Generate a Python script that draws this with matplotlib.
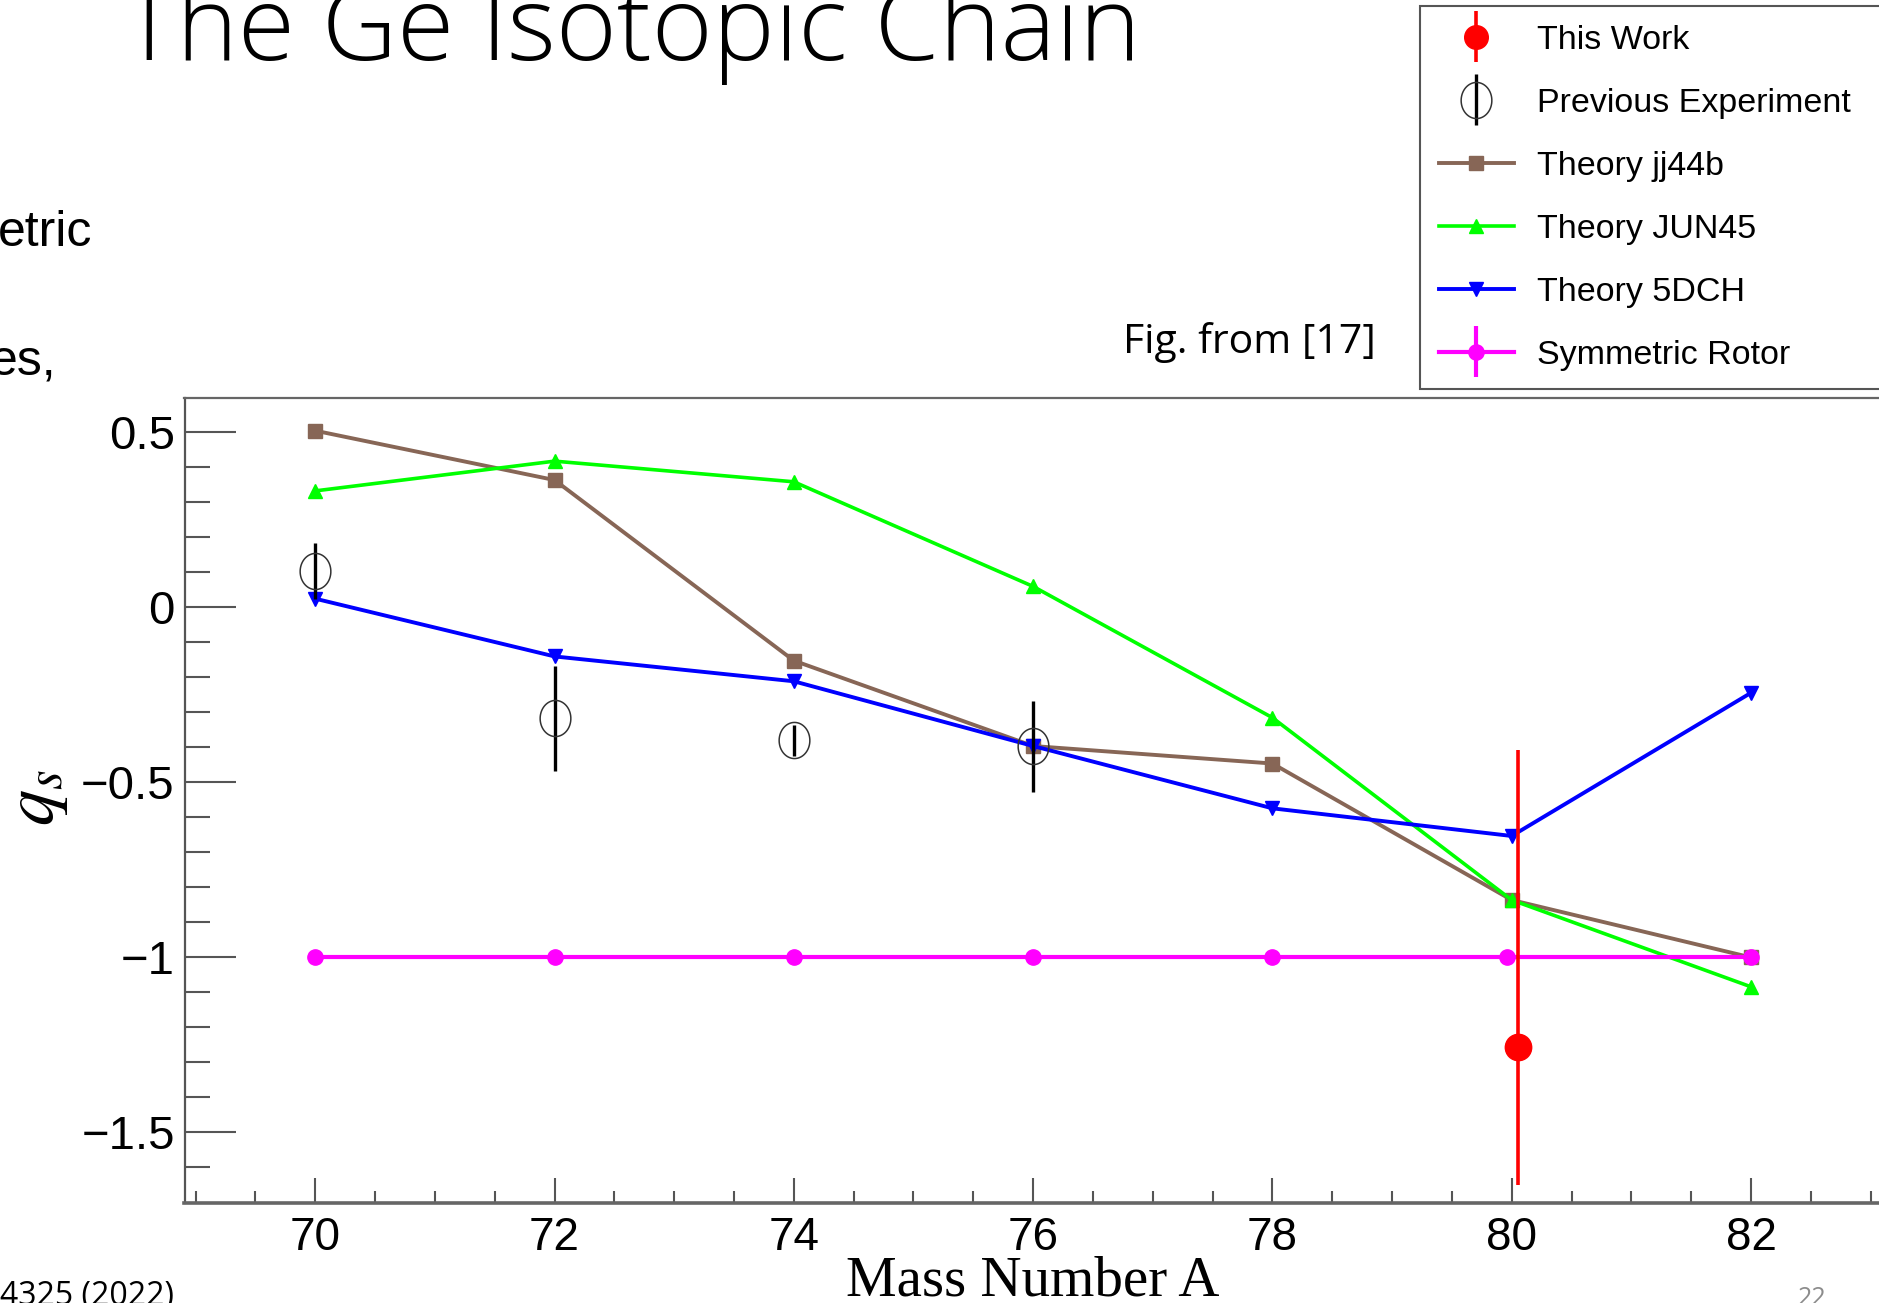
import matplotlib
matplotlib.use("Agg")
import matplotlib.pyplot as plt
import numpy as np
from matplotlib.path import Path
from matplotlib.lines import Line2D
from matplotlib.container import ErrorbarContainer
from matplotlib.legend_handler import HandlerErrorbar

plt.rcParams['font.family'] = ['Liberation Sans', 'DejaVu Sans']
plt.rcParams['mathtext.fontset'] = 'stix'

# data
mass = [70, 72, 74, 76, 78, 80, 82]
jj44b = [0.505, 0.364, -0.152, -0.396, -0.446, -0.836, -1.0]
jun45 = [0.333, 0.418, 0.359, 0.060, -0.315, -0.836, -1.084]
dch5 = [0.025, -0.140, -0.211, -0.396, -0.574, -0.653, -0.244]

rotor_mass = [70, 72, 74, 76, 78, 79.96, 82]
rotor_q = [-1.0, -1.0, -1.0, -1.0, -1.0, -1.0, -1.0]

prev_mass = [70, 72, 74, 76]
prev_q = [0.105, -0.316, -0.380, -0.396]
prev_err = [0.08, 0.15, 0.045, 0.13]

this_mass = [80.05]
this_q = [-1.255]
this_err_lo = [0.396]
this_err_hi = [0.848]

labels = ["This Work", "Previous Experiment", "Theory jj44b",
          "Theory JUN45", "Theory 5DCH", "Symmetric Rotor"]

W, H = 1879, 1303
fig = plt.figure(figsize=(W / 100, H / 100), dpi=100)

# axes placed like the root canvas on the slide (right edge cut by slide)
x0, x1 = 184.5, 1879
y0, y1 = 397.8, 1203.1
ax = fig.add_axes([x0 / W, 1 - y1 / H, (x1 - x0) / W, (y1 - y0) / H])

# ellipse marker, root markers look stretched on the slide
t = np.linspace(0, 2 * np.pi, 80)
ellipse = Path(np.column_stack([0.85 * np.cos(t), np.sin(t)]))

l_jj, = ax.plot(mass, jj44b, '-s', color='#876656', lw=2.8, ms=9.5, zorder=2)
l_jun, = ax.plot(mass, jun45, '-^', color='#00ff00', lw=2.6, ms=10, zorder=2)
l_dch, = ax.plot(mass, dch5, '-v', color='#0000ff', lw=2.8, ms=10, zorder=2.2)
h_rot = ax.errorbar(rotor_mass, rotor_q, yerr=[0] * len(rotor_q), fmt='-o',
                    color='#ff00ff', lw=3, ms=11, elinewidth=3, zorder=2.5)
h_prev = ax.errorbar(prev_mass, prev_q, yerr=prev_err, marker=ellipse,
                     linestyle='none', ms=26, mfc='none', mec='#333333', mew=1.1,
                     ecolor='black', elinewidth=2.4, zorder=3)
h_this = ax.errorbar(this_mass, this_q, yerr=[this_err_lo, this_err_hi], fmt='o',
                     color='#ff0000', ms=19, elinewidth=2.6, zorder=4)

ax.set_xlim(68.907, 83.07)
ax.set_ylim(-1.702, 0.599)
ax.set_xticks(np.arange(70, 83, 2))
ax.set_xticks(np.arange(69, 83.1, 0.5), minor=True)
ax.set_yticks([-1.5, -1, -0.5, 0, 0.5])
ax.set_yticklabels(['\u22121.5', '\u22121', '\u22120.5', '0', '0.5'])
ax.set_yticks(np.arange(-1.6, 0.55, 0.1), minor=True)

ax.tick_params(axis='both', which='both', direction='in', color='#555555', width=1.5,
               top=False, right=False)
ax.tick_params(axis='x', which='major', length=18, labelsize=33, pad=9)
ax.tick_params(axis='x', which='minor', length=9)
ax.tick_params(axis='y', which='major', length=37, labelsize=34, pad=7)
ax.tick_params(axis='y', which='minor', length=18)

ax.spines['right'].set_visible(False)
ax.spines['left'].set_color('#555555')
ax.spines['left'].set_linewidth(1.6)
ax.spines['top'].set_color('#666666')
ax.spines['top'].set_linewidth(1.6)
ax.spines['bottom'].set_color('#666666')
ax.spines['bottom'].set_linewidth(2.6)

ax.set_xlabel('Mass Number A', family='Liberation Serif', fontsize=41, va='baseline')
ax.xaxis.set_label_coords(1033 / W, 1 - 1295 / H, transform=fig.transFigure)
ax.set_ylabel(r'$q_s$', fontsize=52, va='center')
ax.yaxis.set_label_coords(36 / W, 1 - 798 / H, transform=fig.transFigure)


def legend_props(handle, orig):
    handle.update_from(orig)
    if isinstance(handle, Line2D) and handle.get_markersize() > 16:
        if handle.get_markerfacecolor() != 'none':
            handle.set_markersize(17)


# legend box top right, cut by the slide edge
leg = fig.legend([h_this, h_prev, l_jj, l_jun, l_dch, h_rot], labels,
                 loc='upper left', bbox_to_anchor=(1420 / W, 0, 0.3, 1 - 6 / H),
                 mode='expand', borderaxespad=0, fancybox=False, framealpha=1,
                 edgecolor='#555555', fontsize=24.5, labelspacing=0.94,
                 handlelength=2.2, handletextpad=0.7, borderpad=0.55, numpoints=1,
                 handler_map={ErrorbarContainer: HandlerErrorbar(
                     yerr_size=0.75, update_func=legend_props)})
leg.get_frame().set_linewidth(1.5)

# slide text around the figure
fig.text(122 / W, 1 - 60 / H, 'The Ge Isotopic Chain', family='Open Sans',
         weight='light', fontsize=75, ha='left', va='baseline')
fig.text(92 / W, 1 - 246 / H, 'etric', fontsize=36, ha='right', va='baseline')
fig.text(56 / W, 1 - 375 / H, 'es,', fontsize=36, ha='right', va='baseline')
fig.text(1123 / W, 1 - 353 / H, 'Fig. from [17]', family='Open Sans',
         fontsize=29.5, ha='left', va='baseline')
fig.text(174 / W, 1 - 1305 / H, '4325 (2022)', family='Open Sans',
         fontsize=23, ha='right', va='baseline')
fig.text(1812 / W, 1 - 1305 / H, '22', family='Open Sans', color='#8c8c8c',
         fontsize=18, ha='center', va='baseline')

fig.savefig('out.png', dpi=100)
